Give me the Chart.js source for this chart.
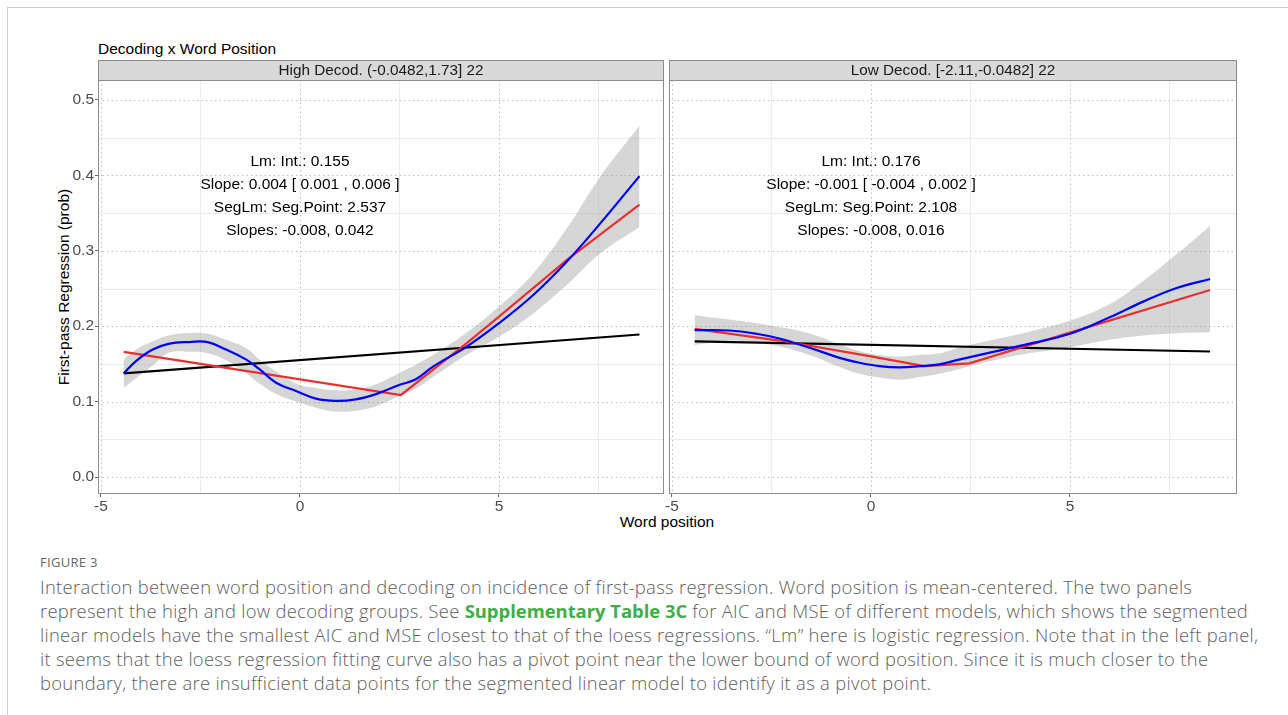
<!DOCTYPE html>
<html>
<head>
<meta charset="utf-8">
<script src="https://cdn.jsdelivr.net/npm/chart.js@4.4.1/dist/chart.umd.min.js"></script>
<style>
  body { margin: 0; background: #fff; }
  #page { position: relative; width: 1288px; height: 715px; overflow: hidden; font-family: "Liberation Sans", Arial, sans-serif; }
  .txt { position: absolute; white-space: nowrap; line-height: 1; }
  canvas { position: absolute; }
  #frameTop { position: absolute; left: 7px; top: 7px; width: 1281px; height: 1px; background: #cccccc; }
  #frameLeft { position: absolute; left: 7px; top: 7px; width: 1px; height: 708px; background: #cccccc; }
  .cap { position: absolute; left: 40px; white-space: nowrap; font-family: "Open Sans", sans-serif; font-size: 18.4px; font-weight: 300; color: #5e5e5e; line-height: 24px; letter-spacing: 0.3px; }
  .cap b { color: #3fae49; font-weight: 700; letter-spacing: 0; }
</style>
</head>
<body>
<div id="page">
  <div id="frameTop"></div>
  <div id="frameLeft"></div>
  <div class="txt" style="left:98px; top:41px; font-size:15.5px; color:#000;">Decoding x Word Position</div>
  <div class="txt" style="left:667px; top:514px; font-size:15.5px; color:#000; transform:translateX(-50%);">Word position</div>
  <div class="txt" style="left:64px; top:287px; font-size:15.5px; color:#000; transform:translate(-50%,-50%) rotate(-90deg);">First-pass Regression (prob)</div>
  <canvas id="altos" width="670" height="500" style="left:0px; top:40px; width:670px; height:500px;"></canvas>
  <canvas id="bajos" width="580" height="500" style="left:664px; top:40px; width:580px; height:500px;"></canvas>
  <div class="txt" style="left:40px; top:556px; font-family:'Open Sans',sans-serif; font-size:13px; color:#666; letter-spacing:0.3px;">FIGURE 3</div>
  <div class="cap" style="top:575px;">Interaction between word position and decoding on incidence of first-pass regression. Word position is mean-centered. The two panels</div>
  <div class="cap" style="top:599px;">represent the high and low decoding groups. See <b>Supplementary Table 3C</b> for AIC and MSE of different models, which shows the segmented</div>
  <div class="cap" style="top:623px;">linear models have the smallest AIC and MSE closest to that of the loess regressions. “Lm” here is logistic regression. Note that in the left panel,</div>
  <div class="cap" style="top:647px;">it seems that the loess regression fitting curve also has a pivot point near the lower bound of word position. Since it is much closer to the</div>
  <div class="cap" style="top:671px;">boundary, there are insufficient data points for the segmented linear model to identify it as a pivot point.</div>
</div>
<script>
// ticks
const xTicks = [-5, 0, 5];
const xMinor = [-2.5, 2.5, 7.5];
const yTicks = [0.0, 0.1, 0.2, 0.3, 0.4, 0.5];
const yMinor = [0.05, 0.15, 0.25, 0.35, 0.45];

// panel 1: High Decod.
const stripAlto = "High Decod. (-0.0482,1.73] 22";
const textoAlto = ["Lm: Int.: 0.155", "Slope: 0.004 [ 0.001 , 0.006 ]", "SegLm: Seg.Point: 2.537", "Slopes: -0.008, 0.042"];
const loessXAlto = [-4.43, -4.12, -3.70, -3.28, -2.78, -2.32, -1.86, -1.36, -1.02, -0.60, -0.10, 0.40, 0.90, 1.40, 1.91, 2.49, 2.91, 3.35, 4.19, 5.0, 5.86, 6.70, 7.54, 8.53];
const loessYAlto = [0.1375, 0.1538, 0.169, 0.177, 0.179, 0.179, 0.169, 0.156, 0.143, 0.125, 0.114, 0.104, 0.101, 0.103, 0.110, 0.122, 0.1296, 0.1467, 0.173, 0.204, 0.2414, 0.2855, 0.336, 0.399];
const bandaSupAlto = [0.156, 0.169, 0.180, 0.188, 0.191, 0.190, 0.182, 0.171, 0.156, 0.140, 0.124, 0.118, 0.115, 0.116, 0.123, 0.138, 0.149, 0.162, 0.1916, 0.226, 0.270, 0.3295, 0.398, 0.466];
const bandaInfAlto = [0.118, 0.131, 0.148, 0.165, 0.166, 0.164, 0.155, 0.138, 0.124, 0.110, 0.100, 0.092, 0.087, 0.088, 0.094, 0.1075, 0.117, 0.133, 0.162, 0.186, 0.217, 0.2546, 0.2965, 0.3317];
const segXAlto = [-4.43, 2.537, 4.19, 5.0, 6.70, 8.53];
const segYAlto = [0.166, 0.1088, 0.1776, 0.2127, 0.2877, 0.3613];
const lmXAlto = [-4.43, 8.53];
const lmYAlto = [0.1375, 0.189];

// panel 2: Low Decod.
const stripBajo = "Low Decod. [-2.11,-0.0482] 22";
const textoBajo = ["Lm: Int.: 0.176", "Slope: -0.001 [ -0.004 , 0.002 ]", "SegLm: Seg.Point: 2.108", "Slopes: -0.008, 0.016"];
const loessXBajo = [-4.43, -3.56, -2.88, -2.30, -1.80, -1.29, -0.79, -0.29, 0.21, 0.72, 1.22, 1.72, 2.24, 3.07, 3.91, 5.0, 6.0, 6.84, 7.68, 8.52];
const loessYBajo = [0.1947, 0.1943, 0.190, 0.1837, 0.1758, 0.167, 0.158, 0.1515, 0.147, 0.1454, 0.147, 0.1495, 0.156, 0.166, 0.176, 0.190, 0.2119, 0.2326, 0.2507, 0.2626];
const bandaSupBajo = [0.2145, 0.2088, 0.204, 0.199, 0.194, 0.186, 0.176, 0.167, 0.1615, 0.160, 0.1617, 0.164, 0.1722, 0.182, 0.192, 0.2075, 0.2296, 0.260, 0.2956, 0.333];
const bandaInfBajo = [0.175, 0.181, 0.178, 0.173, 0.166, 0.157, 0.146, 0.137, 0.132, 0.129, 0.1326, 0.137, 0.1437, 0.1546, 0.1635, 0.1722, 0.182, 0.1877, 0.1907, 0.192];
const segXBajo = [-4.43, -2.30, 0.0, 1.34, 2.47, 5.0, 8.52];
const segYBajo = [0.1965, 0.181, 0.160, 0.147, 0.1507, 0.1915, 0.248];
const lmXBajo = [-4.43, 8.52];
const lmYBajo = [0.180, 0.1665];

function puntos(xs, ys) {
  return xs.map((x, i) => ({ x: x, y: ys[i] }));
}

const panelPlugin = {
  id: "panel",
  beforeDatasetsDraw(chart, args, opts) {
    const ctx = chart.ctx;
    const a = chart.chartArea;
    const sx = chart.scales.x;
    const sy = chart.scales.y;
    ctx.save();
    ctx.lineWidth = 1;
    ctx.strokeStyle = "#ececec";
    yMinor.forEach(v => {
      let p = Math.round(sy.getPixelForValue(v)) + 0.5;
      ctx.beginPath(); ctx.moveTo(a.left, p); ctx.lineTo(a.right, p); ctx.stroke();
    });
    xMinor.forEach(v => {
      let p = Math.round(sx.getPixelForValue(v)) + 0.5;
      if (p < a.left || p > a.right) return;
      ctx.beginPath(); ctx.moveTo(p, a.top); ctx.lineTo(p, a.bottom); ctx.stroke();
    });
    ctx.strokeStyle = "#bdbdbd";
    ctx.setLineDash([1.5, 3]);
    yTicks.forEach(v => {
      let p = Math.round(sy.getPixelForValue(v)) + 0.5;
      ctx.beginPath(); ctx.moveTo(a.left, p); ctx.lineTo(a.right, p); ctx.stroke();
    });
    xTicks.forEach(v => {
      let p = Math.round(sx.getPixelForValue(v)) + 0.5;
      ctx.beginPath(); ctx.moveTo(p, a.top); ctx.lineTo(p, a.bottom); ctx.stroke();
    });
    ctx.restore();
  },
  afterDraw(chart, args, opts) {
    const ctx = chart.ctx;
    const a = chart.chartArea;
    ctx.save();
    // borde del panel
    ctx.strokeStyle = "#8c8c8c";
    ctx.lineWidth = 1;
    ctx.strokeRect(a.left + 0.5, a.top + 0.5, a.right - a.left - 1, a.bottom - a.top - 1);
    // strip
    ctx.fillStyle = "#d9d9d9";
    ctx.fillRect(a.left, a.top - 20, a.right - a.left, 20);
    ctx.strokeRect(a.left + 0.5, a.top - 19.5, a.right - a.left - 1, 20);
    ctx.fillStyle = "#1a1a1a";
    ctx.font = "15.3px 'Liberation Sans', Arial, sans-serif";
    ctx.textAlign = "center";
    ctx.textBaseline = "middle";
    ctx.fillText(opts.strip, (a.left + a.right) / 2, a.top - 9.5);
    // anotaciones
    ctx.fillStyle = "#000";
    ctx.font = "15.5px 'Liberation Sans', Arial, sans-serif";
    const cx = chart.scales.x.getPixelForValue(0);
    const y0 = chart.scales.y.getPixelForValue(0.4186);
    opts.lineas.forEach((t, i) => {
      ctx.fillText(t, cx, y0 + 0.5 + i * 23);
    });
    ctx.restore();
  }
};

function crearPanel(idCanvas, d, conEjeY, padRight) {
  let ctx = document.getElementById(idCanvas).getContext("2d");
  return new Chart(ctx, {
    type: "line",
    plugins: [panelPlugin],
    data: {
      datasets: [
        { data: puntos(d.lx, d.ly), borderColor: "#0000ff", borderWidth: 2.2, tension: 0.4, pointRadius: 0, fill: false },
        { data: puntos(d.sx, d.sy), borderColor: "#e8312f", borderWidth: 2.2, tension: 0, pointRadius: 0, fill: false },
        { data: puntos(d.mx, d.my), borderColor: "#000000", borderWidth: 2.2, tension: 0, pointRadius: 0, fill: false },
        { data: puntos(d.lx, d.sup), borderWidth: 0, borderColor: "rgba(0,0,0,0)", backgroundColor: "rgba(153,153,153,0.4)", tension: 0.4, pointRadius: 0, fill: "+1" },
        { data: puntos(d.lx, d.inf), borderWidth: 0, borderColor: "rgba(0,0,0,0)", tension: 0.4, pointRadius: 0, fill: false },
      ],
    },
    options: {
      responsive: false,
      animation: false,
      devicePixelRatio: 1,
      layout: { padding: { left: 0, right: padRight, top: 40, bottom: 0 } },
      plugins: {
        legend: { display: false },
        tooltip: { enabled: false },
        panel: { strip: d.strip, lineas: d.texto },
      },
      scales: {
        x: {
          type: "linear",
          min: -5.075,
          max: conEjeY ? 9.146 : 9.196,
          afterBuildTicks: (s) => { s.ticks = xTicks.map(v => ({ value: v })); },
          afterFit: (s) => { s.height = 46; },
          grid: { drawOnChartArea: false, drawTicks: true, tickLength: 3, tickColor: "#666" },
          border: { display: false },
          ticks: { color: "#4d4d4d", padding: 0, font: { size: 15.5, family: "'Liberation Sans', Arial, sans-serif" }, maxRotation: 0, autoSkip: false, callback: (v) => String(v) },
        },
        y: {
          type: "linear",
          min: -0.0225,
          max: 0.5265,
          afterBuildTicks: (s) => { s.ticks = yTicks.map(v => ({ value: v })); },
          afterFit: (s) => { s.width = conEjeY ? 98 : 5; },
          grid: { drawOnChartArea: false, drawTicks: conEjeY, tickLength: 3, tickColor: "#666" },
          border: { display: false },
          ticks: { display: conEjeY, color: "#4d4d4d", padding: 1, font: { size: 15.5, family: "'Liberation Sans', Arial, sans-serif" }, callback: (v) => v.toFixed(1) },
        },
      },
    },
  });
}

let chartAlto = crearPanel("altos", {
  strip: stripAlto, texto: textoAlto,
  lx: loessXAlto, ly: loessYAlto, sup: bandaSupAlto, inf: bandaInfAlto,
  sx: segXAlto, sy: segYAlto, mx: lmXAlto, my: lmYAlto,
}, true, 6);

let chartBajo = crearPanel("bajos", {
  strip: stripBajo, texto: textoBajo,
  lx: loessXBajo, ly: loessYBajo, sup: bandaSupBajo, inf: bandaInfBajo,
  sx: segXBajo, sy: segYBajo, mx: lmXBajo, my: lmYBajo,
}, false, 7);
</script>
</body>
</html>
